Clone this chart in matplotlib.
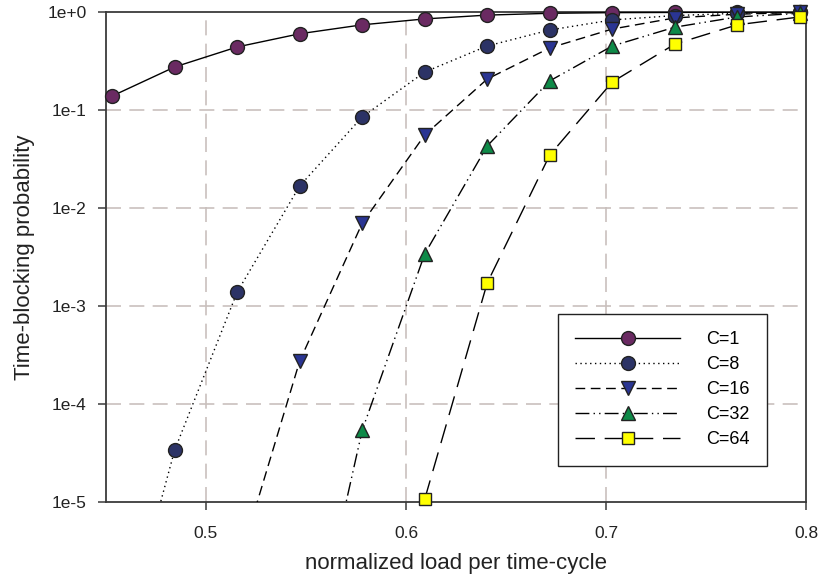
import matplotlib
matplotlib.use("Agg")
import matplotlib.pyplot as plt
from matplotlib.lines import Line2D
from matplotlib.ticker import FixedLocator, FuncFormatter, NullLocator
import numpy as np

plt.rcParams['font.family'] = ['Liberation Sans', 'DejaVu Sans']

# normalized load per time-cycle (bin centres)
load = [0.453125, 0.484375, 0.515625, 0.546875, 0.578125, 0.609375,
        0.640625, 0.671875, 0.703125, 0.734375, 0.765625, 0.796875]

# time-blocking probability for each number of channels C
p_c1 = [0.139, 0.275, 0.44, 0.60, 0.74, 0.85, 0.93, 0.97, 0.985, 0.99, 0.995, 0.998]
p_c8 = [1.5e-7, 3.4e-5, 1.39e-3, 0.0168, 0.085, 0.244, 0.45, 0.655, 0.83, 0.92, 0.97, 0.99]
p_c16 = [None, None, 2.1e-6, 2.75e-4, 7.0e-3, 0.0556, 0.207, 0.43, 0.67, 0.87, 0.95, 0.99]
p_c32 = [None, None, None, 7.7e-8, 5.4e-5, 3.4e-3, 0.043, 0.198, 0.45, 0.70, 0.89, 0.97]
p_c64 = [None, None, None, None, None, 1.07e-5, 1.72e-3, 0.0347, 0.193, 0.47, 0.74, 0.89]

labels = ["C=1", "C=8", "C=16", "C=32", "C=64"]
series = [p_c1, p_c8, p_c16, p_c32, p_c64]
markers = ['o', 'o', 'v', '^', 's']
face_colors = ['#6a2a62', '#2c3366', '#2a3593', '#0e8a48', '#ffff00']
dash_styles = ['-', (0, (1, 2.5)), (0, (7, 4)), (0, (10, 3, 1, 3, 1, 3)), (0, (14, 7))]
marker_sizes = [10, 10, 10, 10, 9]

fig = plt.figure(figsize=(8.19, 5.80), dpi=100)
ax = fig.add_axes([0.1294, 0.1345, 0.8547, 0.8448])
ax.set_yscale('log')
ax.set_xlim(0.45, 0.8)
ax.set_ylim(1e-5, 1.0)

handles = []
for vals, lab, mk, fc, ls, ms in zip(series, labels, markers, face_colors,
                                     dash_styles, marker_sizes):
    xs = [x for x, v in zip(load, vals) if v is not None]
    ys = [v for v in vals if v is not None]
    ax.plot(xs, ys, color='black', lw=1.0, linestyle=ls, zorder=3)
    vis = [(x, y) for x, y in zip(xs, ys) if y >= 1e-5]
    ax.plot([p[0] for p in vis], [p[1] for p in vis], linestyle='none',
            marker=mk, ms=ms, mfc=fc, mec='#222222', mew=1.0,
            zorder=4, clip_on=False)
    handles.append(Line2D([], [], color='black', lw=1.0, linestyle=ls,
                          marker=mk, ms=ms, mfc=fc, mec='#222222', mew=1.0))

# grid
grid_kw = dict(color='#c9c0bd', lw=1.2, linestyle=(0, (9, 5)), zorder=1)
for gx in [0.5, 0.6, 0.7]:
    ax.axvline(gx, **grid_kw)
for gy in [1e-1, 1e-2, 1e-3, 1e-4]:
    ax.axhline(gy, **grid_kw)

# axes styling
for sp in ax.spines.values():
    sp.set_color('#3a3a3a')
    sp.set_linewidth(1.3)
ax.xaxis.set_major_locator(FixedLocator([0.5, 0.6, 0.7, 0.8]))
ax.xaxis.set_minor_locator(NullLocator())
ax.xaxis.set_major_formatter(FuncFormatter(lambda v, p: f"{v:.1f}"))
ax.yaxis.set_major_locator(FixedLocator([1e-5, 1e-4, 1e-3, 1e-2, 1e-1, 1]))
ax.yaxis.set_minor_locator(NullLocator())
ax.yaxis.set_major_formatter(FuncFormatter(
    lambda v, p: "1e+0" if round(np.log10(v)) == 0 else f"1e{int(round(np.log10(v)))}"))
ax.tick_params(direction='out', length=6, width=1.1, color='#3a3a3a',
               labelsize=12.5, labelcolor='#222222')
ax.tick_params(axis='y', pad=8)
ax.tick_params(axis='x', pad=11)

ax.set_xlabel("normalized load per time-cycle", fontsize=16, color='#222222', labelpad=9)
ax.set_ylabel("Time-blocking probability", fontsize=16, color='#222222', labelpad=9)

leg = ax.legend(handles, labels, loc='upper left', bbox_to_anchor=(0.646, 0.384),
                fontsize=13, frameon=True, fancybox=False, framealpha=1,
                edgecolor='#222222', handlelength=5.8, handletextpad=1.45,
                labelspacing=0.45, borderpad=0.95, borderaxespad=0)
leg.get_frame().set_linewidth(1.0)
leg.set_zorder(5)

fig.savefig("out.png", dpi=100)
